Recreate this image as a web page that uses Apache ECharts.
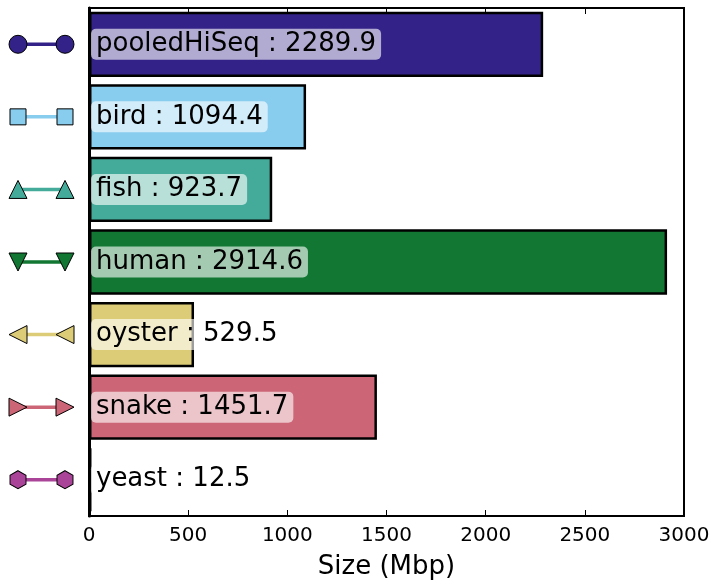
<!DOCTYPE html>
<html>
<head>
<meta charset="utf-8">
<script src="https://cdn.jsdelivr.net/npm/echarts@6/dist/echarts.min.js"></script>
<style>
  html, body { margin: 0; padding: 0; background: #fff; }
  #chart { width: 716px; height: 586px; }
</style>
</head>
<body>
<div id="chart"></div>
<script>
  // data
  var species = ['pooledHiSeq', 'bird', 'fish', 'human', 'oyster', 'snake', 'yeast'];
  var sizes = [2289.9, 1094.4, 923.7, 2914.6, 529.5, 1451.7, 12.5];
  var colors = ['#332288', '#88CCEE', '#44AA99', '#117733', '#DDCC77', '#CC6677', '#AA4499'];
  var xTicks = [0, 500, 1000, 1500, 2000, 2500, 3000];

  var hexagon = 'path://M0,-1 L0.866,-0.5 L0.866,0.5 L0,1 L-0.866,0.5 L-0.866,-0.5 Z';
  var markers = [
    {symbol: 'circle', size: 18, rotate: 0},
    {symbol: 'rect', size: 16, rotate: 0},
    {symbol: 'triangle', size: 18, rotate: 0},
    {symbol: 'triangle', size: 18, rotate: 180},
    {symbol: 'triangle', size: 18, rotate: 90},
    {symbol: 'triangle', size: 18, rotate: -90},
    {symbol: hexagon, size: [16, 18], rotate: 0}
  ];

  var chart = echarts.init(document.getElementById('chart'));

  var font = 'DejaVu Sans';

  // left decoration: line with two markers for each category
  var markerSeries = species.map(function (name, i) {
    return {
      type: 'line',
      xAxisIndex: 2,
      yAxisIndex: 1,
      data: [[0, name], [1, name]],
      symbol: markers[i].symbol,
      symbolSize: markers[i].size,
      symbolRotate: markers[i].rotate,
      showAllSymbol: true,
      lineStyle: {color: colors[i], width: 3.5},
      itemStyle: {color: colors[i], borderColor: '#000', borderWidth: 1},
      silent: true,
      animation: false,
      z: 3
    };
  });

  var option = {
    backgroundColor: '#fff',
    animation: false,
    textStyle: {fontFamily: font},
    grid: [
      {left: 89, right: 32, top: 8, bottom: 70, show: true, borderColor: '#000', borderWidth: 2, backgroundColor: 'transparent'},
      {left: 18, width: 47, top: 8, bottom: 70}
    ],
    xAxis: [{
      type: 'value',
      gridIndex: 0,
      min: 0,
      max: 3000,
      interval: 500,
      name: 'Size (Mbp)',
      nameLocation: 'middle',
      nameGap: 38,
      nameTextStyle: {fontSize: 26, color: '#000', fontFamily: font},
      axisLine: {show: true, lineStyle: {color: '#000', width: 2}},
      axisTick: {show: true, inside: true, length: 6, lineStyle: {color: '#000', width: 1}},
      axisLabel: {fontSize: 20, color: '#000', margin: 10, fontFamily: font,
        formatter: function (v) { return xTicks.indexOf(v) >= 0 ? String(v) : ''; }},
      splitLine: {show: false}
    }, {
      type: 'value',
      gridIndex: 0,
      position: 'top',
      min: 0,
      max: 3000,
      interval: 500,
      axisLine: {show: true, lineStyle: {color: '#000', width: 2}},
      axisTick: {show: true, inside: true, length: 6, lineStyle: {color: '#000', width: 1}},
      axisLabel: {show: false},
      splitLine: {show: false}
    }, {
      type: 'value',
      gridIndex: 1,
      min: 0,
      max: 1,
      show: false
    }],
    yAxis: [{
      type: 'category',
      gridIndex: 0,
      data: species,
      inverse: true,
      axisLine: {show: true, lineStyle: {color: '#000', width: 3}},
      axisTick: {show: false},
      axisLabel: {show: false},
      splitLine: {show: false}
    }, {
      type: 'category',
      gridIndex: 1,
      data: species,
      inverse: true,
      show: false
    }],
    series: [{
      type: 'bar',
      xAxisIndex: 0,
      yAxisIndex: 0,
      barCategoryGap: '10%',
      data: sizes.map(function (v, i) {
        return {value: v, itemStyle: {color: colors[i]}};
      }),
      itemStyle: {borderColor: '#000', borderWidth: 2.5},
      label: {
        show: true,
        position: 'insideLeft',
        distance: 2,
        formatter: '{b} : {c}',
        fontSize: 26,
        fontFamily: font,
        color: '#000',
        backgroundColor: 'rgba(255,255,255,0.62)',
        borderRadius: 5,
        padding: [3, 5, 2, 5]
      },
      z: 2
    }].concat(markerSeries)
  };

  chart.setOption(option);
</script>
</body>
</html>
